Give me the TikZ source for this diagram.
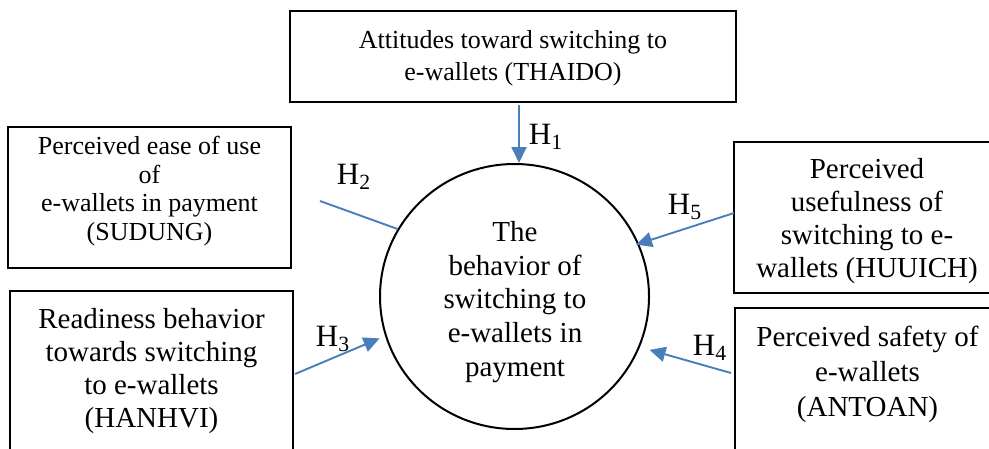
\documentclass[tikz,border=0pt]{standalone}
\usepackage{fontspec}
\setmainfont{Liberation Serif}
\usetikzlibrary{shapes.geometric,arrows.meta}
\definecolor{linkblue}{RGB}{74,126,187}
\begin{document}
\begin{tikzpicture}[x=0.5pt,y=-0.5pt,
  frame/.style={draw=black,line width=1pt,inner sep=0pt},
  toptxt/.style={align=center,inner sep=0pt,font=\fontsize{13}{15.8}\selectfont},
  smalltxt/.style={align=center,inner sep=0pt,font=\fontsize{13}{14.3}\selectfont},
  largetxt/.style={align=center,inner sep=0pt,font=\fontsize{14.5}{16.6}\selectfont},
  link/.style={draw=linkblue,line width=0.95pt},
  arr/.style={link,-{Triangle[length=8pt,width=7.5pt]}},
  hyp/.style={inner sep=0pt,font=\fontsize{15.5}{17}\selectfont}]
\clip (0,0) rectangle (989,449);
\fill[white] (0,0) rectangle (989,449);

% boxes of the constructs
\node[frame,minimum width=223pt,minimum height=45.5pt] (thaido) at (513,56.5) {};
\node[frame,minimum width=141.5pt,minimum height=70.5pt] (sudung) at (149.5,197.5) {};
\node[frame,minimum width=141.5pt,minimum height=94.5pt] (hanhvi) at (151.5,385.5) {};
\node[frame,minimum width=133pt,minimum height=75.5pt] (huuich) at (867,217.5) {};
\node[frame,minimum width=132.5pt,minimum height=86pt] (antoan) at (867.5,394) {};

% central construct
\node[draw=black,line width=1pt,ellipse,inner sep=0pt,
      minimum width=134.5pt,minimum height=132.5pt] (c) at (514.5,296.5) {};

% texts
\node[toptxt] (tthaido) at (513,58) {Attitudes toward switching to\\e-wallets (THAIDO)};
\node[smalltxt] (tsudung) at (149.5,191) {Perceived ease of use\\of\\e-wallets in payment\\(SUDUNG)};
\node[largetxt] (thanhvi) at (151.5,371) {Readiness behavior\\towards switching\\to e-wallets\\(HANHVI)};
\node[largetxt] (thuuich) at (867,221) {Perceived\\usefulness of\\switching to e-\\wallets (HUUICH)};
\node[largetxt,font=\fontsize{14.5}{17.5}\selectfont] (tantoan) at (867.5,374) {Perceived safety of\\e-wallets\\(ANTOAN)};
\node[largetxt,font=\fontsize{14.5}{16.8}\selectfont] (tc) at (515,302) {The\\behavior of\\switching to\\e-wallets in\\payment};

% connector start points
\coordinate (h1s) at (519,105);
\coordinate (h2s) at (320,201);
\coordinate (h3s) at (295,374);
\coordinate (h5s) at (734,213);
\coordinate (h4s) at (731,373);

% hypotheses
\draw[arr] (h1s) -- (h1s |- c.north);
\draw[link] (h2s) -- (c.150);
\draw[arr,shorten >=3pt] (h3s) -- (c.197);
\draw[arr,shorten >=-1.5pt] (h5s) -- (c.23);
\draw[arr,shorten >=5pt] (h4s) -- (c.-22);

\node[hyp] (l1) at (546,137) {H\textsubscript{1}};
\node[hyp] (l2) at (354,177) {H\textsubscript{2}};
\node[hyp] (l3) at (333,339) {H\textsubscript{3}};
\node[hyp] (l5) at (685,207) {H\textsubscript{5}};
\node[hyp] (l4) at (710,348) {H\textsubscript{4}};
\end{tikzpicture}
\end{document}
